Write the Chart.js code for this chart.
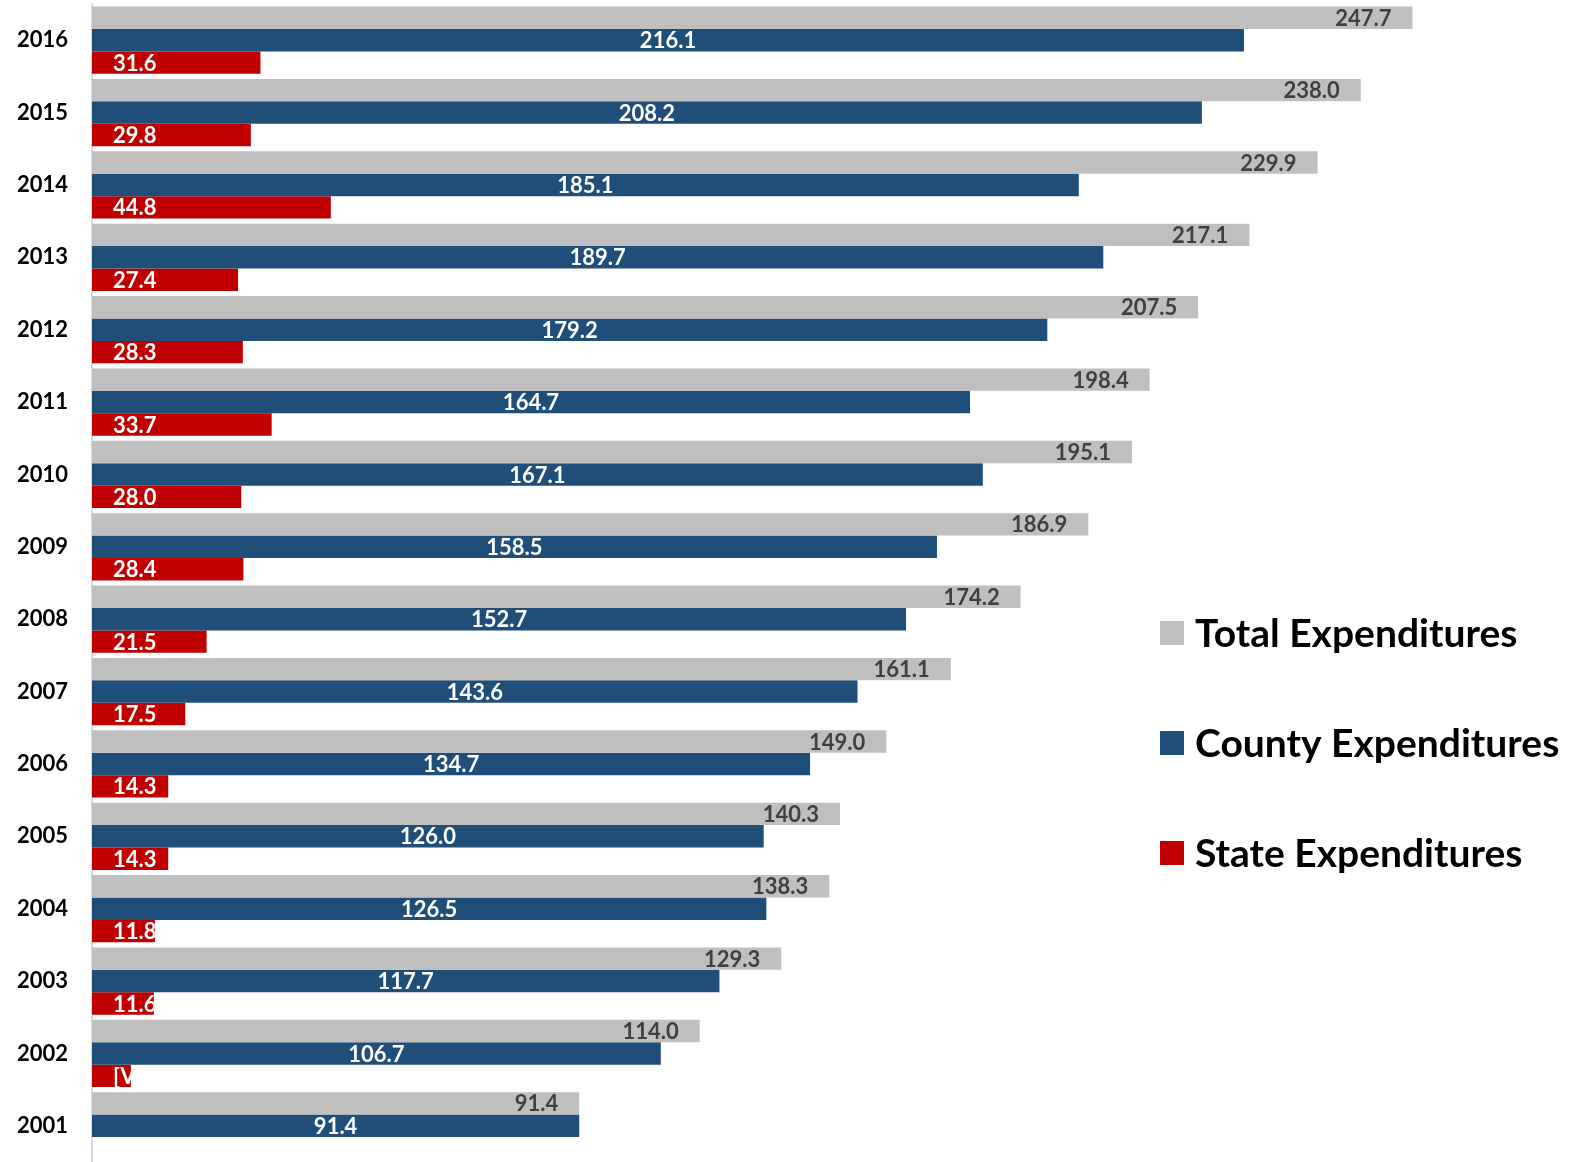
<!DOCTYPE html>
<html>
<head>
<meta charset="utf-8">
<script src="https://cdn.jsdelivr.net/npm/chart.js@4/dist/chart.umd.min.js"></script>
<style>
  html, body { margin: 0; padding: 0; background: #fff; overflow: hidden; }
  canvas { display: block; }
</style>
</head>
<body>
<canvas id="expChart" width="1572" height="1162"></canvas>
<script>
const years = ['2016', '2015', '2014', '2013', '2012', '2011', '2010', '2009',
               '2008', '2007', '2006', '2005', '2004', '2003', '2002', '2001'];
const totalExp = [247.7, 238.0, 229.9, 217.1, 207.5, 198.4, 195.1, 186.9,
                  174.2, 161.1, 149.0, 140.3, 138.3, 129.3, 114.0, 91.4];
const countyExp = [216.1, 208.2, 185.1, 189.7, 179.2, 164.7, 167.1, 158.5,
                   152.7, 143.6, 134.7, 126.0, 126.5, 117.7, 106.7, 91.4];
const stateExp = [31.6, 29.8, 44.8, 27.4, 28.3, 33.7, 28.0, 28.4,
                  21.5, 17.5, 14.3, 14.3, 11.8, 11.6, 7.3, null];
// label text shown on the state bars (2002 kept its placeholder)
const stateLabels = ['31.6', '29.8', '44.8', '27.4', '28.3', '33.7', '28.0', '28.4',
                     '21.5', '17.5', '14.3', '14.3', '11.8', '11.6', '[VALUE]', ''];

const FONT = 'Lato, "Open Sans", sans-serif';

// value labels drawn onto the bars
const barLabels = {
    id: 'barLabels',
    afterDatasetsDraw(chart) {
        const ctx = chart.ctx;
        ctx.save();
        ctx.font = 'bold 22px ' + FONT;
        ctx.textBaseline = 'middle';
        chart.data.datasets.forEach((ds, i) => {
            const meta = chart.getDatasetMeta(i);
            meta.data.forEach((bar, j) => {
                const v = ds.data[j];
                if (v === null || v === undefined) return;
                const left = bar.base, right = bar.x;
                const top = bar.y - bar.height / 2;
                if (i === 0) {
                    ctx.fillStyle = '#404040';
                    ctx.textAlign = 'right';
                    ctx.fillText(v.toFixed(1), right - 21, bar.y + 1);
                } else if (i === 1) {
                    ctx.fillStyle = '#ffffff';
                    ctx.textAlign = 'center';
                    ctx.fillText(v.toFixed(1), (left + right) / 2, bar.y + 1);
                } else {
                    ctx.save();
                    ctx.beginPath();
                    ctx.rect(left, top, right - left, bar.height);
                    ctx.clip();
                    ctx.fillStyle = '#ffffff';
                    ctx.textAlign = 'left';
                    ctx.fillText(stateLabels[j], left + 21, bar.y + 1);
                    ctx.restore();
                }
            });
        });
        ctx.restore();
    }
};

// legend on the right side
const sideLegend = {
    id: 'sideLegend',
    afterDraw(chart) {
        const ctx = chart.ctx;
        const ys = [633, 743, 853];
        ctx.save();
        ctx.font = 'bold 39px ' + FONT;
        ctx.textBaseline = 'middle';
        ctx.textAlign = 'left';
        chart.data.datasets.forEach((ds, i) => {
            ctx.fillStyle = ds.backgroundColor;
            ctx.fillRect(1160, ys[i] - 12, 24, 24);
            ctx.fillStyle = '#000000';
            ctx.fillText(ds.label, 1195, ys[i] + 1);
        });
        ctx.restore();
    }
};

const ctx = document.getElementById('expChart').getContext('2d');
const expChart = new Chart(ctx, {
    type: 'bar',
    data: {
        labels: years,
        datasets: [{
            label: 'Total Expenditures',
            data: totalExp,
            backgroundColor: '#bfbfbf'
        },
        {
            label: 'County Expenditures',
            data: countyExp,
            backgroundColor: '#1f4e79'
        },
        {
            label: 'State Expenditures',
            data: stateExp,
            backgroundColor: '#c00000'
        }]
    },
    plugins: [barLabels, sideLegend],
    options: {
        indexAxis: 'y',
        responsive: false,
        animation: false,
        devicePixelRatio: 1,
        categoryPercentage: 0.93,
        barPercentage: 1.0,
        layout: {
            padding: { top: 4, bottom: 0, right: 14, left: 0 }
        },
        plugins: {
            legend: { display: false },
            tooltip: { enabled: false }
        },
        scales: {
            x: {
                display: false,
                min: 0,
                max: 275
            },
            y: {
                grid: { display: false, drawTicks: false },
                border: { display: true, color: '#d9d9d9', width: 2 },
                ticks: {
                    color: '#000000',
                    padding: 24,
                    font: { family: FONT, size: 22, weight: 'bold' }
                },
                afterFit(scale) {
                    scale.width = 92;
                    scale.paddingTop = 0;
                    scale.paddingBottom = 0;
                }
            }
        }
    }
});
</script>
</body>
</html>
